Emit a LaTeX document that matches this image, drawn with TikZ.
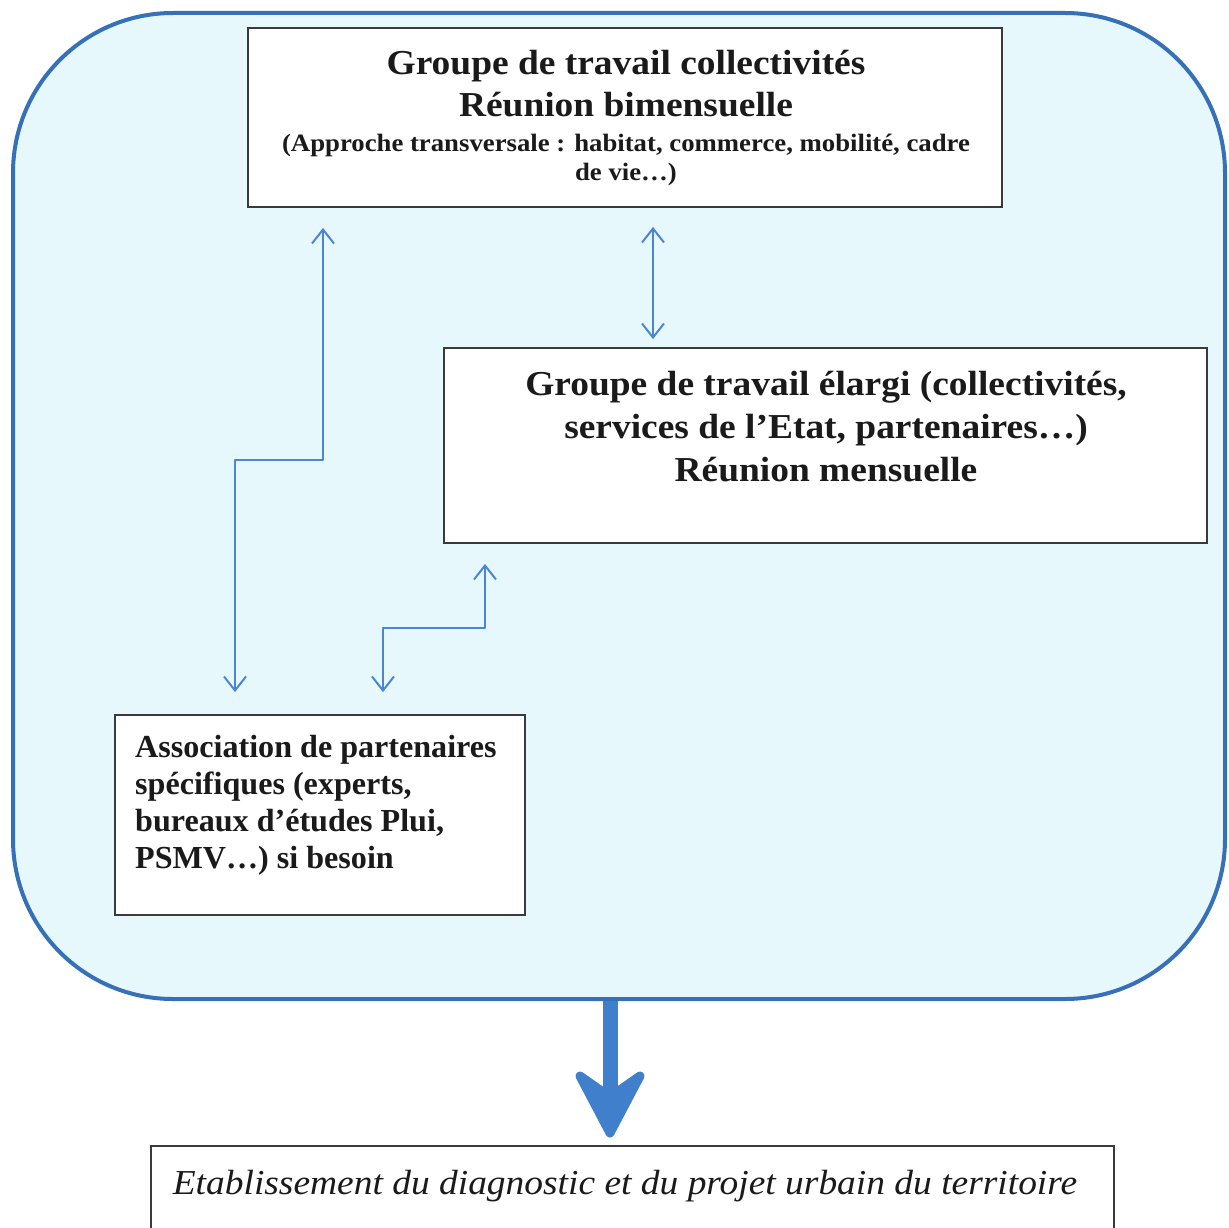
\documentclass[tikz,border=0pt]{standalone}
\usepackage{fontspec}
\setmainfont{Liberation Serif}
\newfontfamily\widefont[FakeStretch=1.07]{Liberation Serif}
\usetikzlibrary{arrows.meta}
\definecolor{panelfill}{HTML}{E7F8FC}
\definecolor{panelline}{HTML}{3570B8}
\definecolor{arrowblue}{HTML}{3F7FCC}
\definecolor{linkblue}{HTML}{4A86D4}
\definecolor{boxline}{HTML}{3A3A3A}
\definecolor{ink}{HTML}{1A1A1A}
\begin{document}
\begin{tikzpicture}[x=1pt,y=-1pt,
  panel/.style={draw=panelline, line width=4pt, fill=panelfill,
    rounded corners=160pt, inner sep=0pt},
  framebox/.style={draw=boxline, line width=1.8pt, fill=white, inner sep=0pt},
  link/.style={draw=linkblue, line width=2pt, line join=round,
    arrows={Straight Barb[length=14pt,width=22pt]-Straight Barb[length=14pt,width=22pt]}},
  bigtxt/.style={font=\widefont\fontsize{35}{42}\selectfont\bfseries, text=ink, anchor=base, inner sep=0pt},
  smalltxt/.style={font=\widefont\fontsize{25}{30}\selectfont\bfseries, text=ink, anchor=base, inner sep=0pt},
  midtxt/.style={font=\fontsize{32.1}{37}\selectfont\bfseries, text=ink, anchor=base west, inner sep=0pt},
  itxt/.style={font=\widefont\fontsize{35}{42}\selectfont\itshape, text=ink, anchor=base, inner sep=0pt},
]
\useasboundingbox (0,0) rectangle (1229,1228);
\clip (0,0) rectangle (1229,1228);

% outer panel
\node[panel, minimum width=1212pt, minimum height=986pt] (panel) at (619,506) {};

% boxes
\node[framebox, minimum width=754pt, minimum height=179pt] (top) at (625,117.5) {};
\node[framebox, minimum width=763pt, minimum height=195pt] (mid) at (825.5,445.5) {};
\node[framebox, minimum width=410pt, minimum height=200pt] (assoc) at (320,815) {};
\node[framebox, minimum width=963pt, minimum height=120pt] (result) at (632.5,1206) {};

% texts of the top box
\node[bigtxt] (t1) at (626,75) {Groupe de travail collectivités};
\node[bigtxt] (t2) at (626,117) {Réunion bimensuelle};
\node[smalltxt] (t3) at (626,152) {(Approche transversale : habitat, commerce, mobilité, cadre};
\node[smalltxt] (t4) at (626,181) {de vie…)};

% texts of the middle box
\node[bigtxt] (m1) at (826,395) {Groupe de travail élargi (collectivités,};
\node[bigtxt] (m2) at (826,438) {services de l’Etat, partenaires…)};
\node[bigtxt] (m3) at (826,481) {Réunion mensuelle};

% texts of the partners box
\node[midtxt] (a1) at (135,757) {Association de partenaires};
\node[midtxt] (a2) at (135,794) {spécifiques (experts,};
\node[midtxt] (a3) at (135,831) {bureaux d’études Plui,};
\node[midtxt] (a4) at (135,868) {PSMV…) si besoin};

% text of the result box
\node[itxt] (r1) at (625,1194) {Etablissement du diagnostic et du projet urbain du territoire};

% bend points of the connectors
\coordinate (lbend) at (235,460);
\coordinate (lx) at (323,460);
\coordinate (cx) at (653,300);
\coordinate (zbend) at (383,628);
\coordinate (zx) at (485,628);
\coordinate (bigx) at (610,1100);

% connectors
\draw[link, shorten <=20pt, shorten >=22pt] (top.south -| lx) |- (lbend) -- (assoc.north -| lbend);
\draw[link, shorten <=19pt, shorten >=8pt] (top.south -| cx) -- (mid.north -| cx);
\draw[link, shorten <=20pt, shorten >=22pt] (mid.south -| zx) |- (zbend) -- (assoc.north -| zbend);

% thick arrow from the panel to the result box
\fill[arrowblue] ([xshift=-7.5pt]panel.south -| bigx) rectangle ([xshift=7.5pt]bigx);
\filldraw[arrowblue, line width=9pt, line join=round]
  (610,1133) -- (580,1076) -- (610,1097) -- (640,1076) -- cycle;
\end{tikzpicture}
\end{document}
